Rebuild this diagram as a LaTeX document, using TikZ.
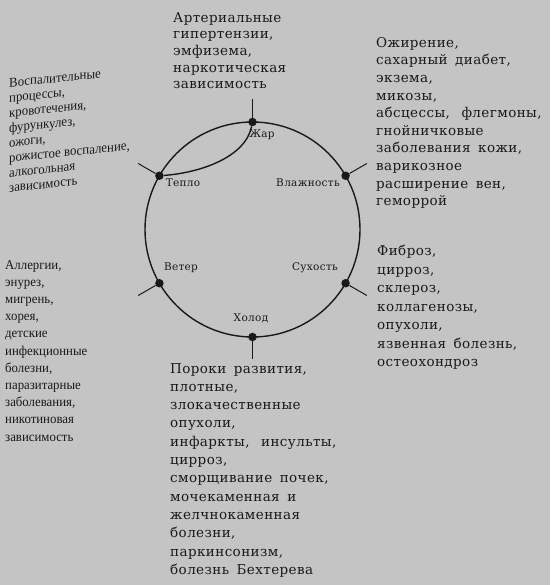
\documentclass[tikz,border=0pt]{standalone}
\usepackage{fontspec}
\setmainfont[WordSpace=1.6,LetterSpace=3]{DejaVu Serif}
\newfontfamily\narrowfont[FakeStretch=0.95]{Liberation Serif}
\usepackage{tikz}
\definecolor{sfondo}{RGB}{196,196,196}
\definecolor{inchiostro}{RGB}{25,25,25}

\begin{document}
\begin{tikzpicture}[x=1pt,y=1pt,
    punto/.style={circle,fill=inchiostro,inner sep=0pt,minimum size=8.5pt},
    nome/.style={font=\fontsize{10.5}{12}\selectfont,text=inchiostro},
    elenco/.style={anchor=north west,inner sep=0pt,align=left,text=inchiostro},
    stretto/.style={anchor=north west,inner sep=0pt,align=left,text=inchiostro}]
    % Sfondo grigio
    \fill[sfondo] (0,0) rectangle (550,585);

    % Disegna il cerchio
    \coordinate (centro) at (252.5,355.5);
    \draw[inchiostro, line width=1.4pt] (centro) circle (107.5pt);

    % Punti sul cerchio
    \node[punto] (zhar)  at ([shift={(90:107.5pt)}]centro) {};
    \node[punto] (vlaga) at ([shift={(30:107.5pt)}]centro) {};
    \node[punto] (sukh)  at ([shift={(-30:107.5pt)}]centro) {};
    \node[punto] (kholod) at ([shift={(-90:107.5pt)}]centro) {};
    \node[punto] (veter) at ([shift={(210:107.5pt)}]centro) {};
    \node[punto] (teplo) at ([shift={(150:107.5pt)}]centro) {};

    % Trattini verso i testi
    \draw[inchiostro, line width=1pt] (zhar) -- ([shift={(90:130pt)}]centro);
    \draw[inchiostro, line width=1pt] (vlaga) -- ([shift={(30:132pt)}]centro);
    \draw[inchiostro, line width=1pt] (sukh) -- ([shift={(-30:132pt)}]centro);
    \draw[inchiostro, line width=1pt] (kholod) -- ([shift={(-90:130pt)}]centro);
    \draw[inchiostro, line width=1pt] (veter) -- ([shift={(210:132pt)}]centro);
    \draw[inchiostro, line width=1pt] (teplo) -- ([shift={(150:132pt)}]centro);

    % Arco da Tepло a Жар
    \draw[inchiostro, line width=1.4pt] (teplo) .. controls +(41.5,3) and +(-7,-35) .. (zhar);

    % Nomi dei punti
    \node[nome] (nzhar) at (262,450) {Жар};
    \node[nome] (nteplo) at (183,402) {Тепло};
    \node[nome] (nvlaga) at (308,402) {Влажность};
    \node[nome] (nveter) at (181,317) {Ветер};
    \node[nome] (nsukh) at (315,317) {Сухость};
    \node[nome] (nkholod) at (251,267) {Холод};

    % Elenchi delle malattie
    \node[elenco, font=\fontsize{13.5}{16.7}\selectfont] (tzhar) at (173,573)
        {Артериальные\\гипертензии,\\эмфизема,\\наркотическая\\зависимость};
    \node[elenco, font=\fontsize{13.5}{17.6}\selectfont] (tvlaga) at (376,548)
        {Ожирение,\\сахарный диабет,\\экзема,\\микозы,\\абсцессы,\hspace{4pt} флегмоны,\\гнойничковые\\заболевания кожи,\\варикозное\\расширение вен,\\геморрой};
    \node[elenco, font=\fontsize{13.5}{18.5}\selectfont] (tsukh) at (377,340)
        {Фиброз,\\цирроз,\\склероз,\\коллагенозы,\\опухоли,\\язвенная болезнь,\\остеохондроз};
    \node[elenco, font=\fontsize{13.5}{18.3}\selectfont] (tkholod) at (170,222)
        {Пороки развития,\\плотные,\\злокачественные\\опухоли,\\инфаркты,\hspace{4pt} инсульты,\\цирроз,\\сморщивание почек,\\мочекаменная и\\желчнокаменная\\болезни,\\паркинсонизм,\\болезнь Бехтерева};
    \node[stretto, font=\narrowfont\fontsize{13.5}{17.2}\selectfont] (tveter) at (5,325)
        {Аллергии,\\энурез,\\мигрень,\\хорея,\\детские\\инфекционные\\болезни,\\паразитарные\\заболевания,\\никотиновая\\зависимость};
    \begin{scope}[shift={(9,507)}, yslant=0.1]
    \node[stretto, transform shape, font=\narrowfont\fontsize{13.5}{15}\selectfont] (tteplo) at (0,0)
        {Воспалительные\\процессы,\\кровотечения,\\фурункулез,\\ожоги,\\рожистое воспаление,\\алкогольная\\зависимость};
    \end{scope}
\end{tikzpicture}
\end{document}
